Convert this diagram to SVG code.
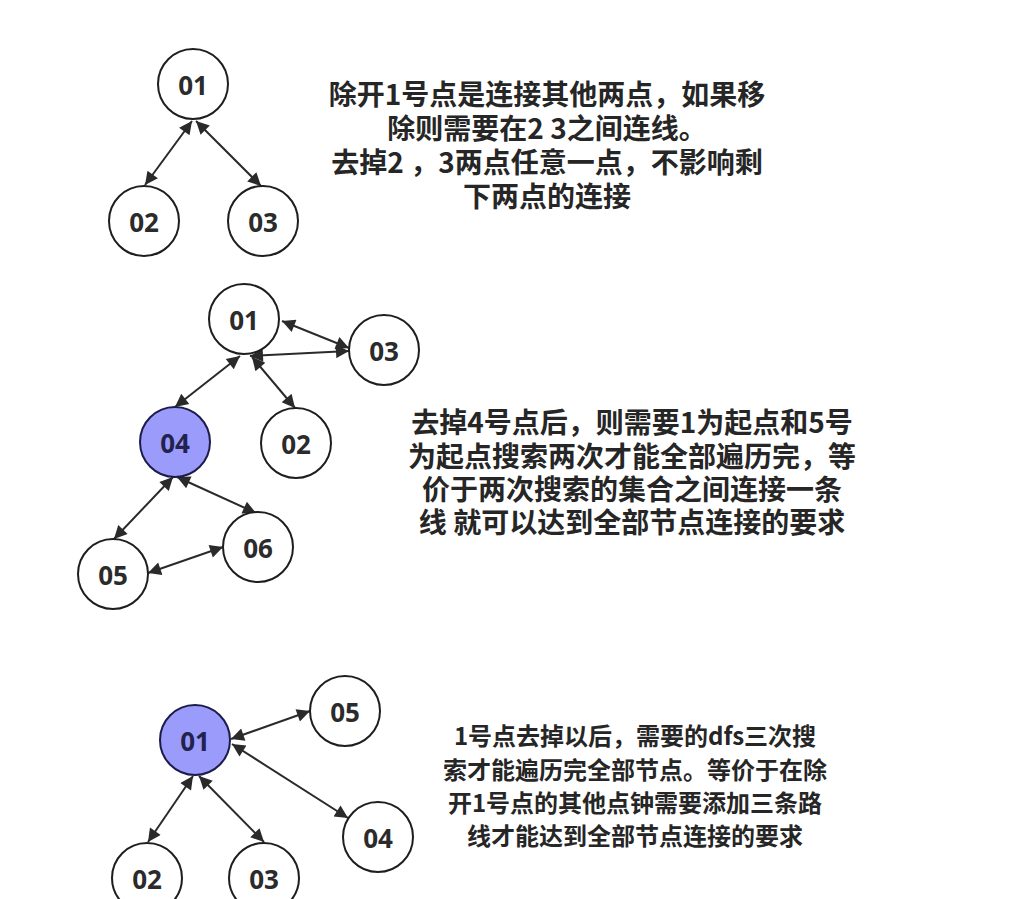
<svg xmlns="http://www.w3.org/2000/svg" width="1016" height="899" viewBox="0 0 1016 899">
<defs>
<style>
.n{fill:#fff;stroke:#1e1e1e;stroke-width:2}
.h{fill:#9b9bfb;stroke:#1c1c4a;stroke-width:2}
.l{font-family:"Open Sans","Noto Sans",sans-serif;font-weight:700;font-size:26px;fill:#2b2b2b;text-anchor:middle;dominant-baseline:central}
.lh{fill:#22224e}
.e{stroke:#2a2a2a;stroke-width:2;fill:none;marker-start:url(#a);marker-end:url(#a)}
.t{font-family:"Noto Sans CJK SC","Noto Sans",sans-serif;font-weight:bold;font-size:28px;fill:#262626;text-anchor:middle}
.s{font-size:24px}
</style>
<marker id="a" viewBox="0 0 10 10" refX="10" refY="5" markerWidth="8.5" markerHeight="6.5" orient="auto-start-reverse">
<path d="M0,0 L10,5 L0,10 z" fill="#2a2a2a"/>
</marker>
</defs>
<rect width="1016" height="899" fill="#fff"/>
<g id="connectors">
<line class="e" x1="192" y1="121" x2="145" y2="185"/>
<line class="e" x1="196" y1="121" x2="261" y2="186"/>
<line class="e" x1="282" y1="321" x2="349" y2="348"/>
<line class="e" x1="250" y1="356" x2="349" y2="351"/>
<line class="e" x1="240" y1="356" x2="175" y2="407"/>
<line class="e" x1="252" y1="357" x2="295" y2="408"/>
<line class="e" x1="173" y1="477" x2="114" y2="539"/>
<line class="e" x1="177" y1="477" x2="256" y2="513"/>
<line class="e" x1="148" y1="573" x2="223" y2="547"/>
<line class="e" x1="231" y1="739" x2="310" y2="711"/>
<line class="e" x1="232" y1="744" x2="348" y2="818"/>
<line class="e" x1="193" y1="776" x2="148" y2="842"/>
<line class="e" x1="199" y1="776" x2="264" y2="842"/>
</g>
<g id="t1-n01"><circle class="n" cx="193" cy="84" r="35"/><text class="l" x="193" y="85">01</text></g>
<g id="t1-n02"><circle class="n" cx="144" cy="221" r="35"/><text class="l" x="144" y="222">02</text></g>
<g id="t1-n03"><circle class="n" cx="263" cy="221" r="35"/><text class="l" x="263" y="222">03</text></g>
<g id="m-n01"><circle class="n" cx="244" cy="319" r="35"/><text class="l" x="244" y="320">01</text></g>
<g id="m-n03"><circle class="n" cx="384" cy="350" r="35"/><text class="l" x="384" y="351">03</text></g>
<g id="m-n04"><circle class="h" cx="175" cy="442" r="35"/><text class="l lh" x="175" y="443">04</text></g>
<g id="m-n02"><circle class="n" cx="296" cy="443" r="35"/><text class="l" x="296" y="444">02</text></g>
<g id="m-n05"><circle class="n" cx="113" cy="574" r="35"/><text class="l" x="113" y="575">05</text></g>
<g id="m-n06"><circle class="n" cx="258" cy="547" r="35"/><text class="l" x="258" y="548">06</text></g>
<g id="b-n01"><circle class="h" cx="195" cy="740" r="35"/><text class="l lh" x="195" y="741">01</text></g>
<g id="b-n05"><circle class="n" cx="345" cy="711" r="35"/><text class="l" x="345" y="712">05</text></g>
<g id="b-n04"><circle class="n" cx="378" cy="837" r="35"/><text class="l" x="378" y="838">04</text></g>
<g id="b-n02"><circle class="n" cx="147" cy="878" r="35"/><text class="l" x="147" y="879">02</text></g>
<g id="b-n03"><circle class="n" cx="264" cy="878" r="35"/><text class="l" x="264" y="879">03</text></g>
<text id="text1" class="t"><tspan x="547" y="105">除开1号点是连接其他两点，如果移</tspan><tspan x="547" y="139">除则需要在2 3之间连线。</tspan><tspan x="547" y="173">去掉2 ，3两点任意一点，不影响剩</tspan><tspan x="547" y="207">下两点的连接</tspan></text>
<text id="text2" class="t"><tspan x="632" y="433">去掉4号点后，则需要1为起点和5号</tspan><tspan x="632" y="467">为起点搜索两次才能全部遍历完，等</tspan><tspan x="632" y="500">价于两次搜索的集合之间连接一条</tspan><tspan x="632" y="533">线 就可以达到全部节点连接的要求</tspan></text>
<text id="text3" class="t s"><tspan x="635" y="745">1号点去掉以后，需要的dfs三次搜</tspan><tspan x="635" y="779">索才能遍历完全部节点。等价于在除</tspan><tspan x="635" y="812">开1号点的其他点钟需要添加三条路</tspan><tspan x="635" y="845">线才能达到全部节点连接的要求</tspan></text>
</svg>
